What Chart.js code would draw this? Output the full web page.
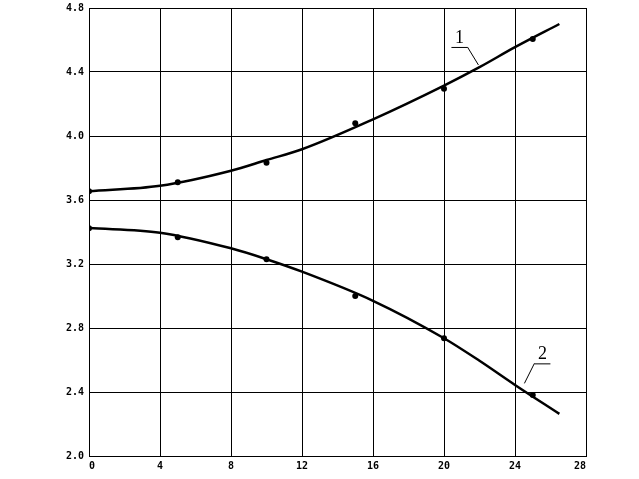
<!DOCTYPE html>
<html>
<head>
<meta charset="utf-8">
<script src="https://cdn.jsdelivr.net/npm/chart.js@4"></script>
<style>
  html, body { margin: 0; padding: 0; background: #fff; }
  #wrap { width: 639px; height: 479px; }
</style>
</head>
<body>
<div id="wrap"><canvas id="chart" width="639" height="479"></canvas></div>
<script>
// measured points
const xPoints = [0, 5, 10, 15, 20, 25];
const points1 = [3.655, 3.711, 3.833, 4.079, 4.296, 4.606];
const points2 = [3.423, 3.367, 3.229, 3.0, 2.736, 2.381];

// smoothed curves
const xCurve = [0, 4, 8, 10, 12, 16, 20, 22, 24, 26.5];
const curve1 = [3.655, 3.689, 3.783, 3.85, 3.917, 4.104, 4.315, 4.43, 4.555, 4.70];
const curve2 = [3.425, 3.396, 3.298, 3.23, 3.152, 2.97, 2.736, 2.595, 2.444, 2.263];

// curve numbers: text, point on the curve, offset of the label in px
const curveLabels = [
  { text: '1', x: 21.94, y: 4.444, dx: -11, dy: -18 },
  { text: '2', x: 24.53, y: 2.454, dx: 10, dy: -20 }
];

const toXY = (xs, ys) => xs.map((x, i) => ({ x: x, y: ys[i] }));

// plugin for the "1" / "2" marks with leader lines
const labelPlugin = {
  id: 'curveLabels',
  afterDatasetsDraw(chart) {
    const ctx = chart.ctx;
    const sx = chart.scales.x, sy = chart.scales.y;
    ctx.save();
    ctx.strokeStyle = '#000';
    ctx.fillStyle = '#000';
    ctx.lineWidth = 1;
    ctx.font = '18px "Liberation Serif", serif';
    ctx.textAlign = 'center';
    ctx.textBaseline = 'bottom';
    curveLabels.forEach(l => {
      const px = sx.getPixelForValue(l.x);
      const py = sy.getPixelForValue(l.y);
      const ux = px + l.dx, uy = py + l.dy;
      const w = 16;
      const x0 = l.dx < 0 ? ux - w : ux;
      ctx.beginPath();
      ctx.moveTo(px, py);
      ctx.lineTo(ux, uy);
      ctx.moveTo(x0, uy + 0.5);
      ctx.lineTo(x0 + w, uy + 0.5);
      ctx.stroke();
      ctx.fillText(l.text, x0 + w / 2, uy);
    });
    ctx.restore();
  }
};

const tickFont = { family: '"DejaVu Sans Mono", monospace', size: 10, weight: 'bold' };

new Chart(document.getElementById('chart'), {
  type: 'line',
  data: {
    datasets: [
      { data: toXY(xCurve, curve1), borderColor: '#000', borderWidth: 2.5, pointRadius: 0, cubicInterpolationMode: 'monotone' },
      { data: toXY(xCurve, curve2), borderColor: '#000', borderWidth: 2.5, pointRadius: 0, cubicInterpolationMode: 'monotone' },
      { data: toXY(xPoints, points1), showLine: false, pointRadius: 3, pointBackgroundColor: '#000', pointBorderColor: '#000', pointBorderWidth: 0 },
      { data: toXY(xPoints, points2), showLine: false, pointRadius: 3, pointBackgroundColor: '#000', pointBorderColor: '#000', pointBorderWidth: 0 }
    ]
  },
  options: {
    responsive: false,
    animation: false,
    layout: { padding: { left: 0, top: 8, right: 53, bottom: 0 } },
    plugins: { legend: { display: false }, tooltip: { enabled: false } },
    scales: {
      x: {
        type: 'linear', min: 0, max: 28,
        grid: { color: '#000', lineWidth: 1, drawTicks: false },
        border: { color: '#000', width: 1 },
        ticks: { stepSize: 4, color: '#000', font: tickFont, padding: 4, align: 'inner', maxRotation: 0 },
        afterFit(s) { s.height = 23; s.paddingLeft = 0; s.paddingRight = 0; }
      },
      y: {
        min: 2.0, max: 4.8,
        grid: { color: '#000', lineWidth: 1, drawTicks: false },
        border: { color: '#000', width: 1 },
        ticks: { stepSize: 0.4, color: '#000', font: tickFont, padding: 5, callback: v => v.toFixed(1) },
        afterFit(s) { s.width = 89; s.paddingTop = 0; s.paddingBottom = 0; }
      }
    }
  },
  plugins: [labelPlugin]
});
</script>
</body>
</html>
